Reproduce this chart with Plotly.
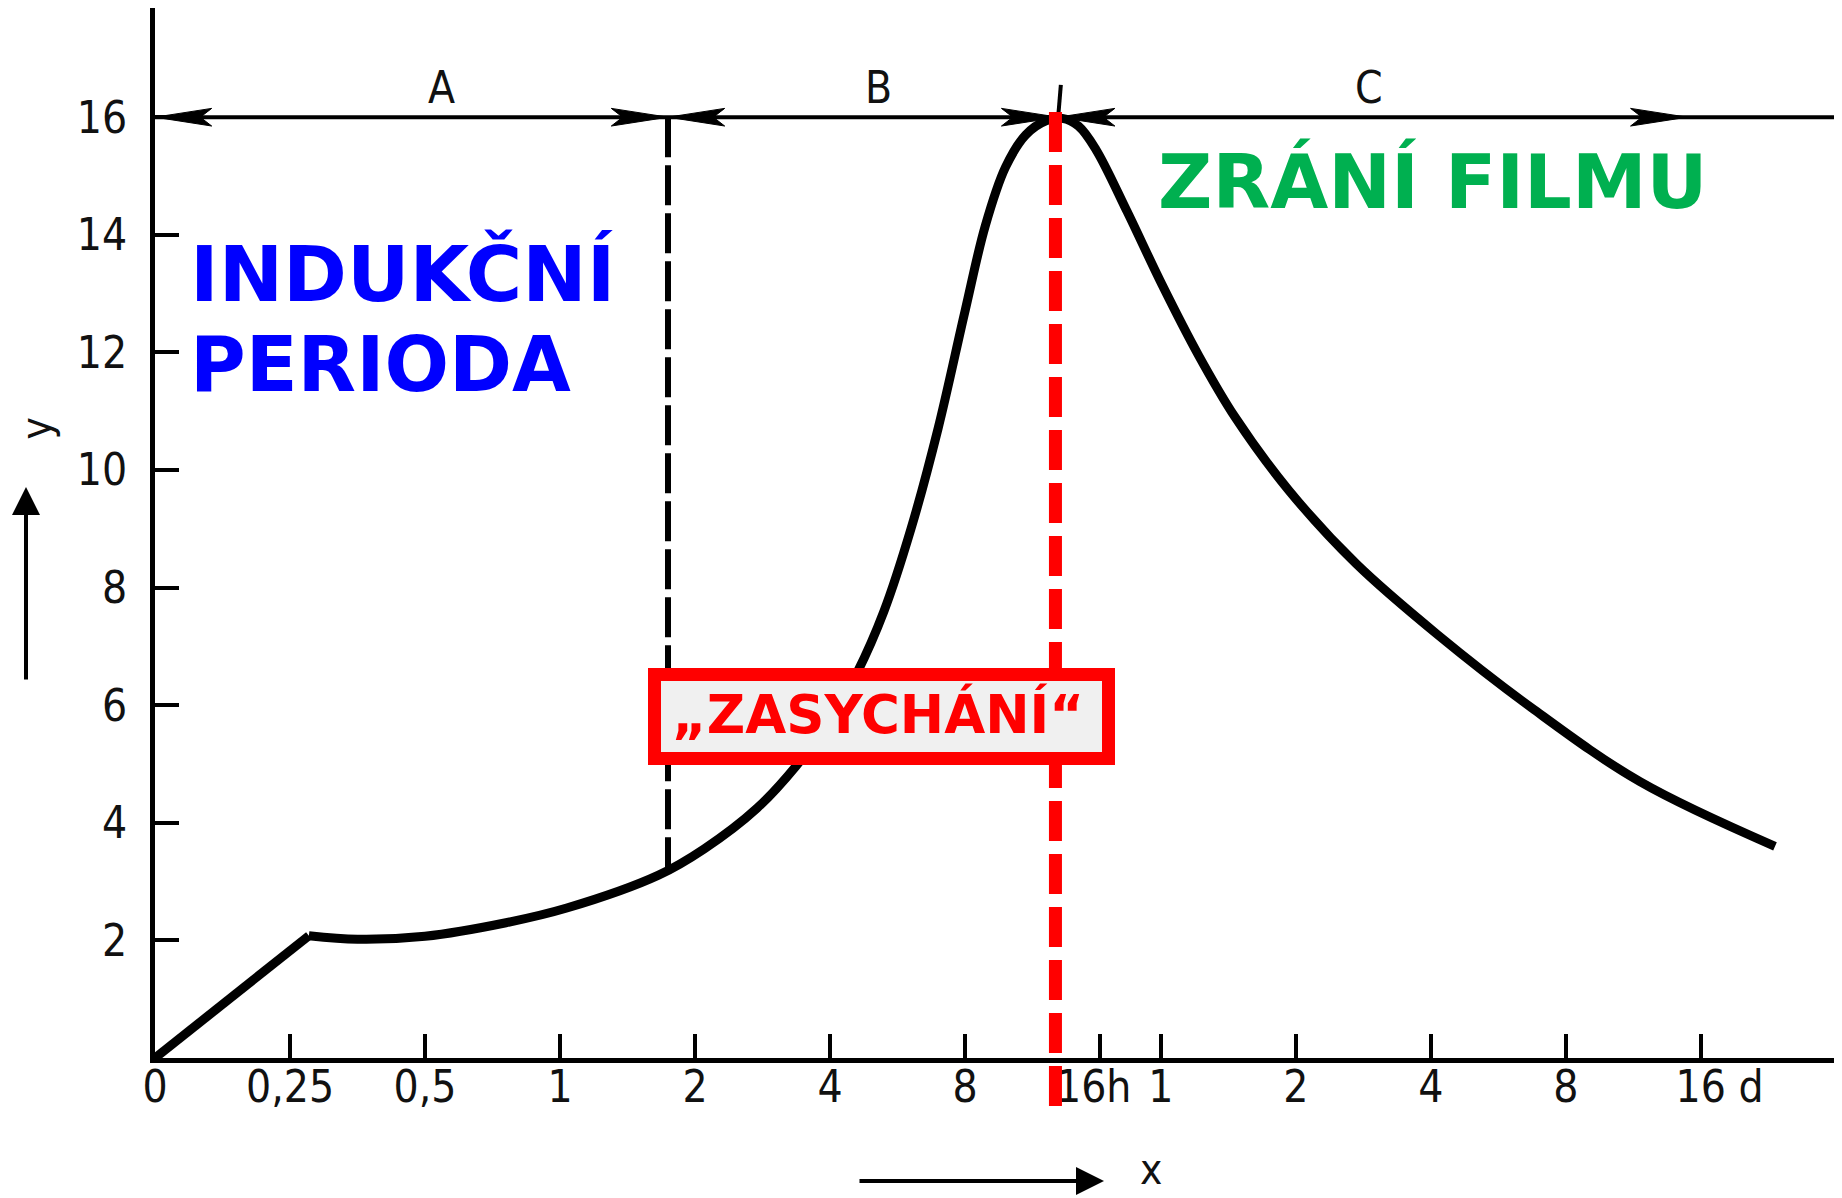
import numpy as np
import plotly.graph_objects as go

# ---------------- data ----------------
# x axis: time on a doubling scale (hours, then days)
tick_pos = [0, 1, 2, 3, 4, 5, 6, 7, 7.45, 8.45, 9.45, 10.45, 11.45]
tick_text = ["0", "0,25", "0,5", "1", "2", "4", "8", "16h\u00a0", "1", "2", "4", "8",
             "\u00a0\u00a0\u00a016 d"]
y_ticks = [2, 4, 6, 8, 10, 12, 14, 16]

# curve, first segment is a straight line
curve_x = [0, 1.14, 1.5, 2.0, 2.6, 3.05, 3.73, 4.07, 4.46, 4.75, 5.0, 5.2, 5.4, 5.6, 5.8,
           6.0, 6.15, 6.3, 6.45, 6.6, 6.72, 6.84, 6.97, 7.2, 7.46, 7.73, 8.0, 8.4, 8.9,
           9.5, 10.2, 11.0, 12.0]
curve_y = [0, 2.08, 2.02, 2.07, 2.3, 2.55, 3.11, 3.56, 4.25, 4.97, 5.75, 6.55, 7.6, 9.0, 10.7,
           12.7, 14.15, 15.15, 15.7, 15.94, 15.98, 15.85, 15.45, 14.4, 13.15, 11.95, 10.9, 9.65, 8.4,
           7.2, 5.95, 4.7, 3.6]

phase_labels = ["A", "B", "C"]
phase_label_x = [2.12, 5.36, 8.99]
phase_label_y = 16.5
phase_line_y = 16
bound_AB = 3.8
bound_BC = 6.69
c_arrow_end = 11.35
drying_x = 6.67
drying_top = 16.09
drying_bottom = -0.84

# ---------------- layout geometry ----------------
OFF = 8                      # page body margin of the html page
PAGE_W, PAGE_H = 1842, 1198
W, H = PAGE_W - OFF, PAGE_H - OFF
PLOT_LEFT, PLOT_BOTTOM = 155, 1058   # in page pixels
ML = PLOT_LEFT - OFF
MB = H - (PLOT_BOTTOM - OFF)
PX_X, PX_Y = 135.0, 58.8
PW, PH = W - ML, H - MB
X_MAX = PW / PX_X
Y_MAX = PH / PX_Y


def paper(px, py):
    """page pixel -> paper coordinates"""
    return (px - PLOT_LEFT) / PW, (PLOT_BOTTOM - py) / PH


TICK_FAMILY = "DejaVu Sans Condensed, Liberation Sans Narrow, sans-serif"
TICK_FONT = dict(family=TICK_FAMILY, size=44, color="#111111")

fig = go.Figure()

# straight initial segment
fig.add_trace(go.Scatter(x=curve_x[:2], y=curve_y[:2], mode="lines",
                         line=dict(color="black", width=9), hoverinfo="skip"))
# smooth curve
fig.add_trace(go.Scatter(x=curve_x[1:], y=curve_y[1:], mode="lines",
                         line=dict(color="black", width=9, shape="spline", smoothing=1.0),
                         hoverinfo="skip"))

shapes = []
# top phase line
shapes.append(dict(type="line", xref="x", yref="y", x0=0, x1=X_MAX, y0=phase_line_y, y1=phase_line_y,
                   line=dict(color="black", width=4)))
# arrowheads
L, Hh = 0.42, 0.15


def head(tip, direction):
    b = tip - direction * L
    n = tip - direction * L * 0.8
    y = phase_line_y
    return dict(type="path", xref="x", yref="y",
                path=f"M {tip},{y} L {b},{y + Hh} L {n},{y} L {b},{y - Hh} Z",
                fillcolor="black", line=dict(color="black", width=1))


for tip, d in [(0, -1), (bound_AB, 1), (bound_AB, -1), (bound_BC, 1), (bound_BC, -1), (c_arrow_end, 1)]:
    shapes.append(head(tip, d))

# small tick above B/C boundary
shapes.append(dict(type="line", xref="x", yref="y", x0=bound_BC, x1=bound_BC + 0.02,
                   y0=phase_line_y, y1=phase_line_y + 0.55, line=dict(color="black", width=4)))

# dashed A/B boundary down to the curve
dash_bottom = float(np.interp(bound_AB, curve_x, curve_y))
shapes.append(dict(type="line", xref="x", yref="y", x0=bound_AB, x1=bound_AB,
                   y0=phase_line_y, y1=dash_bottom,
                   line=dict(color="black", width=6, dash="40px,8px")))

# red dashed line (extends below x axis -> paper coords)
shapes.append(dict(type="line", xref="paper", yref="paper",
                   x0=drying_x / X_MAX, x1=drying_x / X_MAX,
                   y0=drying_top / Y_MAX, y1=drying_bottom / Y_MAX,
                   line=dict(color="#ff0000", width=13, dash="40px,13px"), layer="above"))

# ZASYCHANI box
bx0, by0 = paper(648 + 6.5, 668 + 6.5)
bx1, by1 = paper(1115 - 6.5, 765 - 6.5)
shapes.append(dict(type="rect", xref="paper", yref="paper", x0=bx0, x1=bx1, y0=by1, y1=by0,
                   fillcolor="#f0f0f0", line=dict(color="#ff0000", width=13), layer="above"))

annotations = []
for lab, lx in zip(phase_labels, phase_label_x):
    annotations.append(dict(x=lx, y=phase_label_y, xref="x", yref="y", text=lab, showarrow=False,
                            font=dict(family=TICK_FAMILY, size=44, color="#111111"),
                            xanchor="center", yanchor="middle"))

BOLD = "DejaVu Sans, Liberation Sans, Arial, sans-serif"
ax_, ay_ = paper(188, 274)
annotations.append(dict(x=ax_, y=ay_, xref="paper", yref="paper", text="<b>INDUKČNÍ</b>",
                        showarrow=False, xanchor="left", yanchor="middle",
                        font=dict(family=BOLD, size=77, color="#0000ff")))
ax_, ay_ = paper(188, 364)
annotations.append(dict(x=ax_, y=ay_, xref="paper", yref="paper", text="<b>PERIODA</b>",
                        showarrow=False, xanchor="left", yanchor="middle",
                        font=dict(family=BOLD, size=76, color="#0000ff")))
ax_, ay_ = paper(1156, 182)
annotations.append(dict(x=ax_, y=ay_, xref="paper", yref="paper", text="<b>ZRÁNÍ FILMU</b>",
                        showarrow=False, xanchor="left", yanchor="middle",
                        font=dict(family=BOLD, size=75, color="#00b050")))
ax_, ay_ = paper(878, 714)
annotations.append(dict(x=ax_, y=ay_, xref="paper", yref="paper", text="<b>„ZASYCHÁNÍ“</b>",
                        showarrow=False, xanchor="center", yanchor="middle",
                        font=dict(family=BOLD, size=53, color="#ff0000")))

# axis name labels and arrows
ax_, ay_ = paper(10, 429)
annotations.append(dict(x=ax_, y=ay_, xref="paper", yref="paper", text="y", textangle=-90,
                        showarrow=False, xanchor="left", yanchor="middle", borderpad=0,
                        font=dict(family=TICK_FAMILY, size=42, color="#111111")))
hx, hy = paper(26, 487)
annotations.append(dict(x=hx, y=hy, xref="paper", yref="paper", text="", showarrow=True,
                        ax=0, ay=194, arrowhead=2, arrowsize=1.4, arrowwidth=4, arrowcolor="black"))
hx, hy = paper(1104, 1181)
annotations.append(dict(x=hx, y=hy, xref="paper", yref="paper", text="", showarrow=True,
                        ax=-246, ay=0, arrowhead=2, arrowsize=1.4, arrowwidth=4, arrowcolor="black"))
ax_, ay_ = paper(1151, 1196)
annotations.append(dict(x=ax_, y=ay_, xref="paper", yref="paper", text="x",
                        showarrow=False, xanchor="center", yanchor="bottom",
                        font=dict(family=TICK_FAMILY, size=42, color="#111111")))

fig.update_layout(
    width=W, height=H,
    margin=dict(l=ML, r=0, t=0, b=MB, autoexpand=False),
    paper_bgcolor="white", plot_bgcolor="white",
    showlegend=False,
    shapes=shapes, annotations=annotations,
    xaxis=dict(range=[0, X_MAX], showgrid=False, zeroline=False, showline=True, linecolor="black",
               linewidth=5, ticks="inside", ticklen=24, tickwidth=4, tickcolor="black",
               tickvals=tick_pos, ticktext=tick_text, tickfont=TICK_FONT, ticklabelstandoff=-14,
               tickangle=0, fixedrange=True),
    yaxis=dict(range=[0, Y_MAX], showgrid=False, zeroline=False, showline=True, linecolor="black",
               linewidth=5, ticks="inside", ticklen=24, tickwidth=4, tickcolor="black",
               tickvals=y_ticks, tickfont=TICK_FONT, ticklabelstandoff=14, fixedrange=True),
)

fig.write_html("out.html")
